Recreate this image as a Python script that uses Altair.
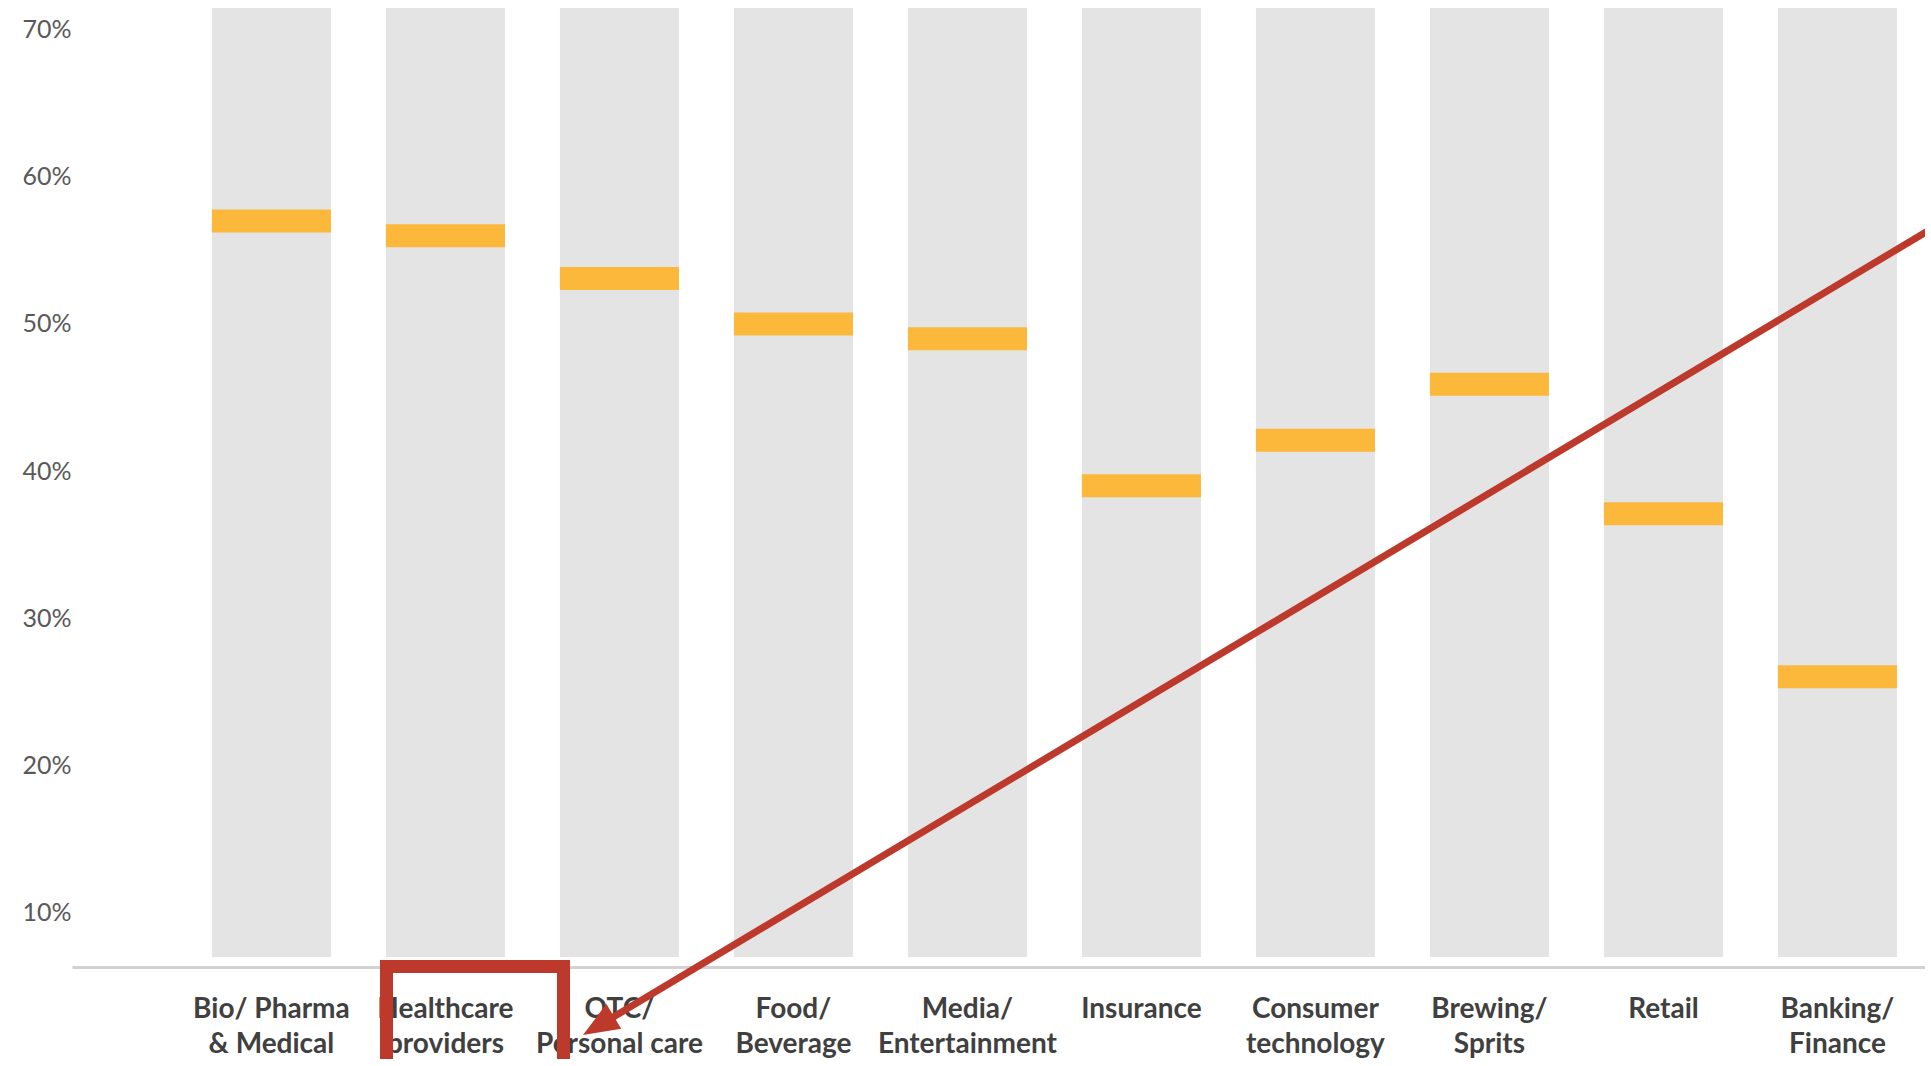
import altair as alt
import pandas as pd

# ---- data ----
categories = [
    "Bio/ Pharma|& Medical",
    "Healthcare|providers",
    "OTC/|Personal care",
    "Food/|Beverage",
    "Media/|Entertainment",
    "Insurance",
    "Consumer|technology",
    "Brewing/|Sprits",
    "Retail",
    "Banking/|Finance",
]
values = [57.0, 56.0, 53.1, 50.0, 49.0, 39.0, 42.1, 45.9, 37.1, 26.0]
bg_low = [6.94] * len(categories)
bg_high = [71.5] * len(categories)
y_ticks = [10, 20, 30, 40, 50, 60, 70]

df = pd.DataFrame({"cat": categories, "value": values, "low": bg_low, "high": bg_high})

FONT = "Lato"
GRAY = "#E4E4E4"
YELLOW = "#FBB83A"
RED = "#BD392B"

xenc = alt.X(
    "cat:N",
    sort=categories,
    scale=alt.Scale(paddingInner=0.316, paddingOuter=0.4827, align=0.833),
    axis=alt.Axis(
        title=None,
        labelAngle=0,
        labelExpr="split(datum.label, '|')",
        labelFont=FONT,
        labelFontWeight="bold",
        labelFontSize=28,
        labelColor="#404040",
        labelLineHeight=35,
        labelPadding=28,
        labelOverlap=False,
        labelBound=False,
        labelLimit=400,
        ticks=False,
        domainColor="#D2D2D2",
        domainWidth=3,
    ),
)

yscale = alt.Scale(domain=[6.26, 72.04], nice=False, zero=False)
yaxis = alt.Axis(
    title=None,
    values=y_ticks,
    labelExpr="datum.value + '%'",
    grid=False,
    ticks=False,
    domain=False,
    labelFont=FONT,
    labelFontSize=25,
    labelColor="#595959",
    labelPadding=1,
)

bg = alt.Chart(df).mark_bar(color=GRAY).encode(
    x=xenc,
    y=alt.Y("low:Q", scale=yscale, axis=yaxis),
    y2="high:Q",
)

marks = alt.Chart(df).mark_tick(color=YELLOW, opacity=1, thickness=23, size=119).encode(
    x=xenc,
    y=alt.Y("value:Q", scale=yscale),
)

# ---- red annotation (overlay decoration, pixel space) ----
one = pd.DataFrame({"k": [0]})
box = alt.Chart(one).mark_rect(fill=None, stroke=RED, strokeWidth=13).encode(
    x=alt.value(314.5), x2=alt.value(491.5), y=alt.value(966.5), y2=alt.value(1120)
)
arrow_line = alt.Chart(one).mark_rule(color=RED, strokeWidth=7).encode(
    x=alt.value(1900), y=alt.value(204.5), x2=alt.value(533), y2=alt.value(1022)
)
arrow_head = alt.Chart(one).mark_point(
    shape="M0,-1L-0.8,1L0.8,1Z", filled=True, color=RED, opacity=1, size=1296, angle=239.1
).encode(x=alt.value(526.4), y=alt.value(1025.7))

chart = (
    alt.layer(bg, marks, box, arrow_line, arrow_head)
    .properties(
        width=1853,
        height=967,
        padding={"left": 72, "top": 0, "right": 0, "bottom": 92},
        autosize=alt.AutoSizeParams(type="none"),
        background="white",
    )
    .configure_view(stroke=None)
)

chart.save("out.html", embed_options={"renderer": "svg", "actions": False})
